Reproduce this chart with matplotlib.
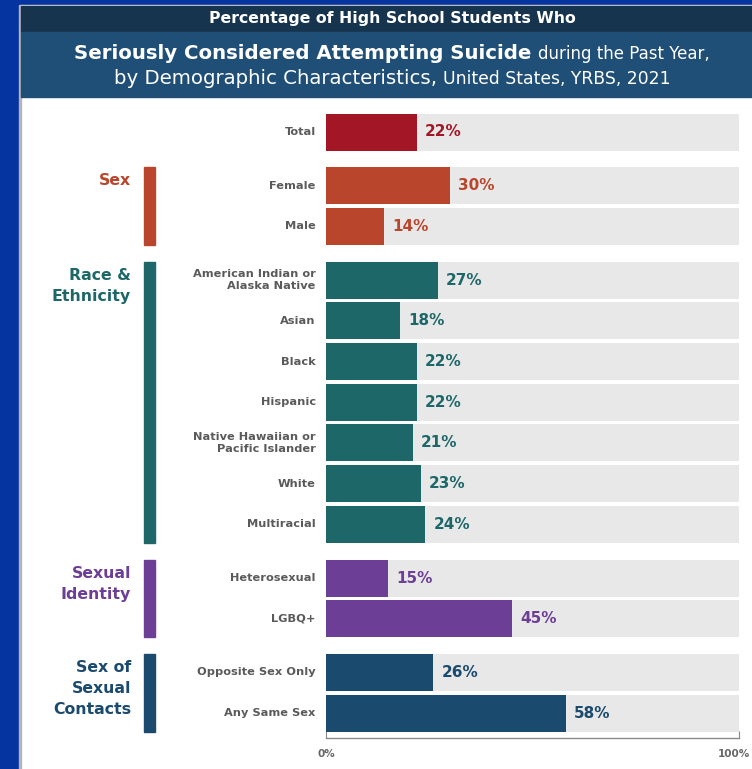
import matplotlib.pyplot as plt
import matplotlib.transforms as mtransforms
from matplotlib.patches import Rectangle

plt.rcParams['font.family'] = ['DejaVu Sans']

# data
categories = ['Total', 'Female', 'Male',
              'American Indian or\nAlaska Native', 'Asian', 'Black', 'Hispanic',
              'Native Hawaiian or\nPacific Islander', 'White', 'Multiracial',
              'Heterosexual', 'LGBQ+', 'Opposite Sex Only', 'Any Same Sex']
values = [22, 30, 14, 27, 18, 22, 22, 21, 23, 24, 15, 45, 26, 58]
row_group = [0, 1, 1, 2, 2, 2, 2, 2, 2, 2, 3, 3, 4, 4]
group_names = ['', 'Sex', 'Race &\nEthnicity', 'Sexual\nIdentity', 'Sex of\nSexual\nContacts']
group_colors = ['#a31626', '#b9462c', '#1d6769', '#6d3e96', '#1a4a6e']

W, H = 752, 769
fig = plt.figure(figsize=(W / 100, H / 100), dpi=100)

def fx(px):
    return px / W

def fy(py):
    return 1 - py / H

# frame / header
bg = fig.add_axes([0, 0, 1, 1])
bg.set_xlim(0, W)
bg.set_ylim(H, 0)
bg.axis('off')
bg.add_patch(Rectangle((0, 0), 19, H, color='#0533a0'))
bg.add_patch(Rectangle((0, 0), W, 4.5, color='#0533a0'))
bg.add_patch(Rectangle((19, 4.5), 2, H, color='#b5b5b5'))
bg.add_patch(Rectangle((21, 4.5), W, 1.5, color='#dcdcdc'))
bg.add_patch(Rectangle((21, 6), W, 26, color='#17344f'))
bg.add_patch(Rectangle((21, 32), W, 65, color='#1f4e76'))

cx = 392
bg.text(cx, 18.5, 'Percentage of High School Students Who', color='white',
        fontsize=11.3, fontweight='bold', ha='center', va='center')

renderer = fig.canvas.get_renderer()

def centered_line(parts, y):
    texts = []
    for s, size, weight in parts:
        t = bg.text(0, y, s, color='white', fontsize=size, fontweight=weight,
                    ha='left', va='baseline')
        texts.append(t)
    widths = [t.get_window_extent(renderer).width for t in texts]
    x = cx - sum(widths) / 2
    for t, w in zip(texts, widths):
        t.set_x(x)
        x += w

centered_line([('Seriously Considered Attempting Suicide ', 14.2, 'bold'),
               ('during the Past Year,', 12, 'normal')], 59)
centered_line([('by Demographic Characteristics, ', 14.2, 'normal'),
               ('United States, YRBS, 2021', 12.4, 'normal')], 84)

# row positions with extra space between groups
pos = []
p = 0.0
for i, g in enumerate(row_group):
    if i > 0:
        p += 1.0 + (0.32 if g != row_group[i - 1] else 0)
    pos.append(p)

step = 40.7
top_px, bot_px = 108, 738
y0 = 132
ax = fig.add_axes([fx(326), fy(bot_px), fx(739) - fx(326), (bot_px - top_px) / H])
ax.set_xlim(0, 100)
ax.set_ylim((bot_px - y0) / step, (top_px - y0) / step)

bh = 37 / step
colors = [group_colors[g] for g in row_group]
ax.barh(pos, [100] * len(values), height=bh, color='#e8e8e8', zorder=1)
ax.barh(pos, values, height=bh, color=colors, zorder=2)

for yp, v, c, lab in zip(pos, values, colors, categories):
    ax.text(v + 2.0, yp, f'{v}%', color=c, fontsize=11, fontweight='bold',
            ha='left', va='center')
    ax.text(-2.5, yp, lab, color='#5a5a5a', fontsize=8.2, fontweight='bold',
            ha='right', va='center', linespacing=1.3, clip_on=False)

# group brackets and labels
for g in range(1, len(group_names)):
    idx = [i for i, rg in enumerate(row_group) if rg == g]
    ytop = pos[idx[0]] - bh / 2
    ybot = pos[idx[-1]] + bh / 2
    bx0 = (144 - 326) / 413 * 100
    bx1 = (155 - 326) / 413 * 100
    ax.add_patch(Rectangle((bx0, ytop), bx1 - bx0, ybot - ytop,
                           color=group_colors[g], clip_on=False))
    ax.text((131 - 326) / 413 * 100, ytop + 0.15, group_names[g],
            color=group_colors[g], fontsize=11.3, fontweight='bold',
            ha='right', va='top', linespacing=1.5, clip_on=False)

# bottom axis bracket
for s in ['top', 'right', 'left']:
    ax.spines[s].set_visible(False)
ax.spines['bottom'].set_color('#8a8a8a')
ax.spines['bottom'].set_linewidth(1.0)
ax.set_yticks([])
ax.set_xticks([0, 100])
ax.set_xticklabels(['0%', '100%'])
ax.tick_params(axis='x', direction='in', length=5, color='#8a8a8a',
               labelsize=7.5, labelcolor='#666666', pad=8)
for t in ax.get_xticklabels():
    t.set_fontweight('bold')
last = ax.get_xticklabels()[-1]
last.set_horizontalalignment('right')
last.set_transform(last.get_transform() +
                   mtransforms.ScaledTranslation(11 / 100, 0, fig.dpi_scale_trans))

fig.savefig('out.png', dpi=100)
